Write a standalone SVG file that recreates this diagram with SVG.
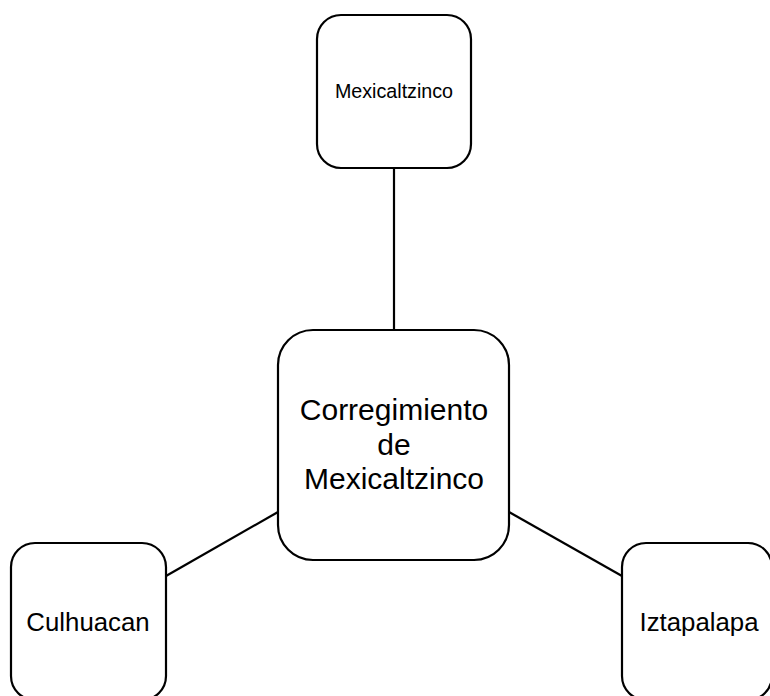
<svg xmlns="http://www.w3.org/2000/svg" width="770" height="696" viewBox="0 0 770 696">
<style>
.node{fill:#fff;stroke:#000;stroke-width:2.2}
.edge{stroke:#000;stroke-width:2.2;fill:none}
text{font-family:"Liberation Sans",Arial,sans-serif;fill:#000;text-anchor:middle}
</style>
<rect width="770" height="696" fill="#fff"/>
<g id="connectors">
<line class="edge" x1="394" y1="168" x2="394" y2="330"/>
<line class="edge" x1="166" y1="576" x2="278" y2="512"/>
<line class="edge" x1="509" y1="512" x2="622" y2="576"/>
</g>
<g id="n-mexicaltzinco">
<rect class="node" x="317" y="15" width="154" height="153" rx="24"/>
<text x="394" y="98" font-size="19.7">Mexicaltzinco</text>
</g>
<g id="n-corregimiento">
<rect class="node" x="278" y="330" width="231" height="230" rx="35"/>
<text x="394" y="420" font-size="30">Corregimiento</text>
<text x="394" y="455" font-size="30">de</text>
<text x="394" y="489" font-size="30">Mexicaltzinco</text>
</g>
<g id="n-culhuacan">
<rect class="node" x="11" y="543" width="155" height="157" rx="24"/>
<text x="88" y="631" font-size="25.8">Culhuacan</text>
</g>
<g id="n-iztapalapa">
<rect class="node" x="622" y="543" width="150" height="157" rx="24"/>
<text x="699" y="631" font-size="25.8">Iztapalapa</text>
</g>
</svg>
